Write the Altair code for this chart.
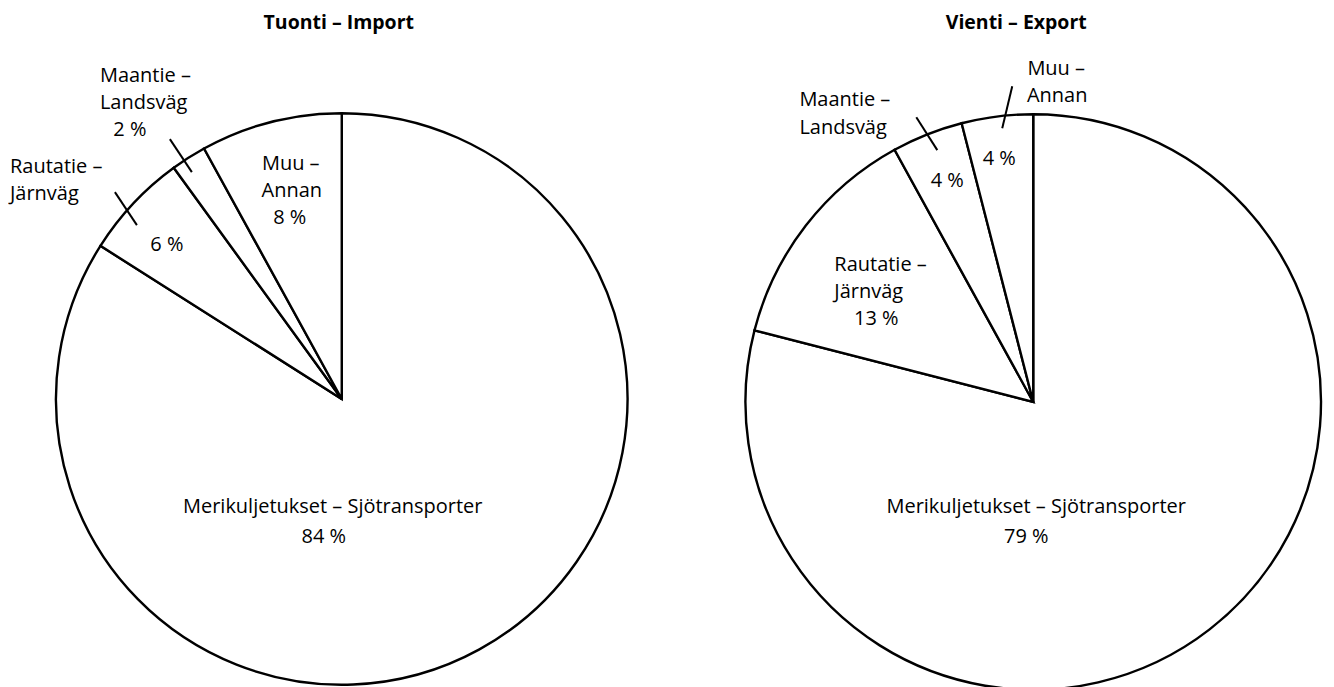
import altair as alt
import pandas as pd

# ---- data -------------------------------------------------------------
categories = [
    "Merikuljetukset – Sjötransporter",
    "Rautatie – Järnväg",
    "Maantie – Landsväg",
    "Muu – Annan",
]
import_values = [84, 6, 2, 8]
export_values = [79, 13, 4, 4]
titles = ["Tuonti – Import", "Vienti – Export"]

# ---- label layout (offsets from pie centre, px; align) -------------------
import_layout = {
    "Merikuljetukset – Sjötransporter": [(-9, 108, "center"), (-18, 138, "center")],
    "Rautatie – Järnväg": [(-332, -232, "left"), (-332, -205, "left"), (-175, -154, "center")],
    "Maantie – Landsväg": [(-242, -323, "left"), (-242, -296, "left"), (-212, -269, "center")],
    "Muu – Annan": [(-51, -235, "center"), (-50, -208, "center"), (-52, -181, "center")],
}
export_layout = {
    "Merikuljetukset – Sjötransporter": [(3, 105, "center"), (-7, 135, "center")],
    "Rautatie – Järnväg": [(-199, -137, "left"), (-199, -110, "left"), (-157, -83, "center")],
    "Maantie – Landsväg": [(-234, -302, "left"), (-234, -274, "left"), (-86, -221, "center")],
    "Muu – Annan": [(23, -333, "center"), (24, -306, "center"), (-34, -243, "center")],
}
import_leaders = [(-172, -260, -150, -227), (-227, -207, -205, -174)]
export_leaders = [(-21, -316, -31, -274), (-117, -285, -96, -252)]
title_offsets = [(-3, -376), (-17, -379)]

FONT = "Open Sans"
FS = 20


def label_rows(values, layout):
    rows = []
    for cat, val in zip(categories, values):
        fi, sv = cat.split(" – ")
        if cat == categories[0]:
            lines = [cat, f"{val} %"]
        else:
            lines = [f"{fi} –", sv, f"{val} %"]
        for line, (dx, dy, al) in zip(lines, layout[cat]):
            rows.append({"text": line, "dx": dx, "dy": dy, "align": al})
    return pd.DataFrame(rows)


def pie_panel(values, layout, leaders, title, toff, cx, cy, W, H, R):
    xs = alt.Scale(domain=[-cx, W - cx], nice=False, zero=False)
    ys = alt.Scale(domain=[-cy, H - cy], nice=False, zero=False, reverse=True)

    pie_df = pd.DataFrame({"category": categories, "value": values,
                           "order": list(range(len(categories)))})
    arcs = alt.Chart(pie_df).mark_arc(
        outerRadius=R, fill="white", stroke="black", strokeWidth=2.4
    ).encode(
        theta=alt.Theta("value:Q", stack=True),
        order=alt.Order("order:Q"),
        x=alt.XDatum(0, scale=xs, axis=None, type="quantitative"),
        y=alt.YDatum(0, scale=ys, axis=None, type="quantitative"),
    )

    lab = label_rows(values, layout)
    base_txt = alt.Chart(lab).encode(
        x=alt.X("dx:Q", scale=xs, axis=None),
        y=alt.Y("dy:Q", scale=ys, axis=None),
        text="text:N",
    )
    txt_c = base_txt.transform_filter(alt.datum.align == "center").mark_text(
        font=FONT, fontSize=FS, align="center", baseline="middle", color="black")
    txt_l = base_txt.transform_filter(alt.datum.align == "left").mark_text(
        font=FONT, fontSize=FS, align="left", baseline="middle", color="black")

    lead_df = pd.DataFrame(leaders, columns=["x1", "y1", "x2", "y2"])
    rules = alt.Chart(lead_df).mark_rule(color="black", strokeWidth=2).encode(
        x=alt.X("x1:Q", scale=xs, axis=None),
        y=alt.Y("y1:Q", scale=ys, axis=None),
        x2="x2:Q",
        y2="y2:Q",
    )

    tdf = pd.DataFrame({"text": [title], "dx": [toff[0]], "dy": [toff[1]]})
    ttl = alt.Chart(tdf).mark_text(
        font=FONT, fontSize=19.5, fontWeight="bold", align="center",
        baseline="middle", color="black"
    ).encode(
        x=alt.X("dx:Q", scale=xs, axis=None),
        y=alt.Y("dy:Q", scale=ys, axis=None),
        text="text:N",
    )
    return alt.layer(arcs, rules, txt_c, txt_l, ttl).properties(width=W, height=H)


left = pie_panel(import_values, import_layout, import_leaders, titles[0],
                 title_offsets[0], cx=334, cy=391, W=660, H=679, R=286)
right = pie_panel(export_values, export_layout, export_leaders, titles[1],
                  title_offsets[1], cx=356, cy=394, W=648, H=679, R=288)

chart = alt.hconcat(left, right, spacing=10, bounds="flush").properties(
    padding=0, background="white"
).configure_view(stroke=None)

chart.save("out.html", embed_options={"renderer": "svg", "actions": False})
